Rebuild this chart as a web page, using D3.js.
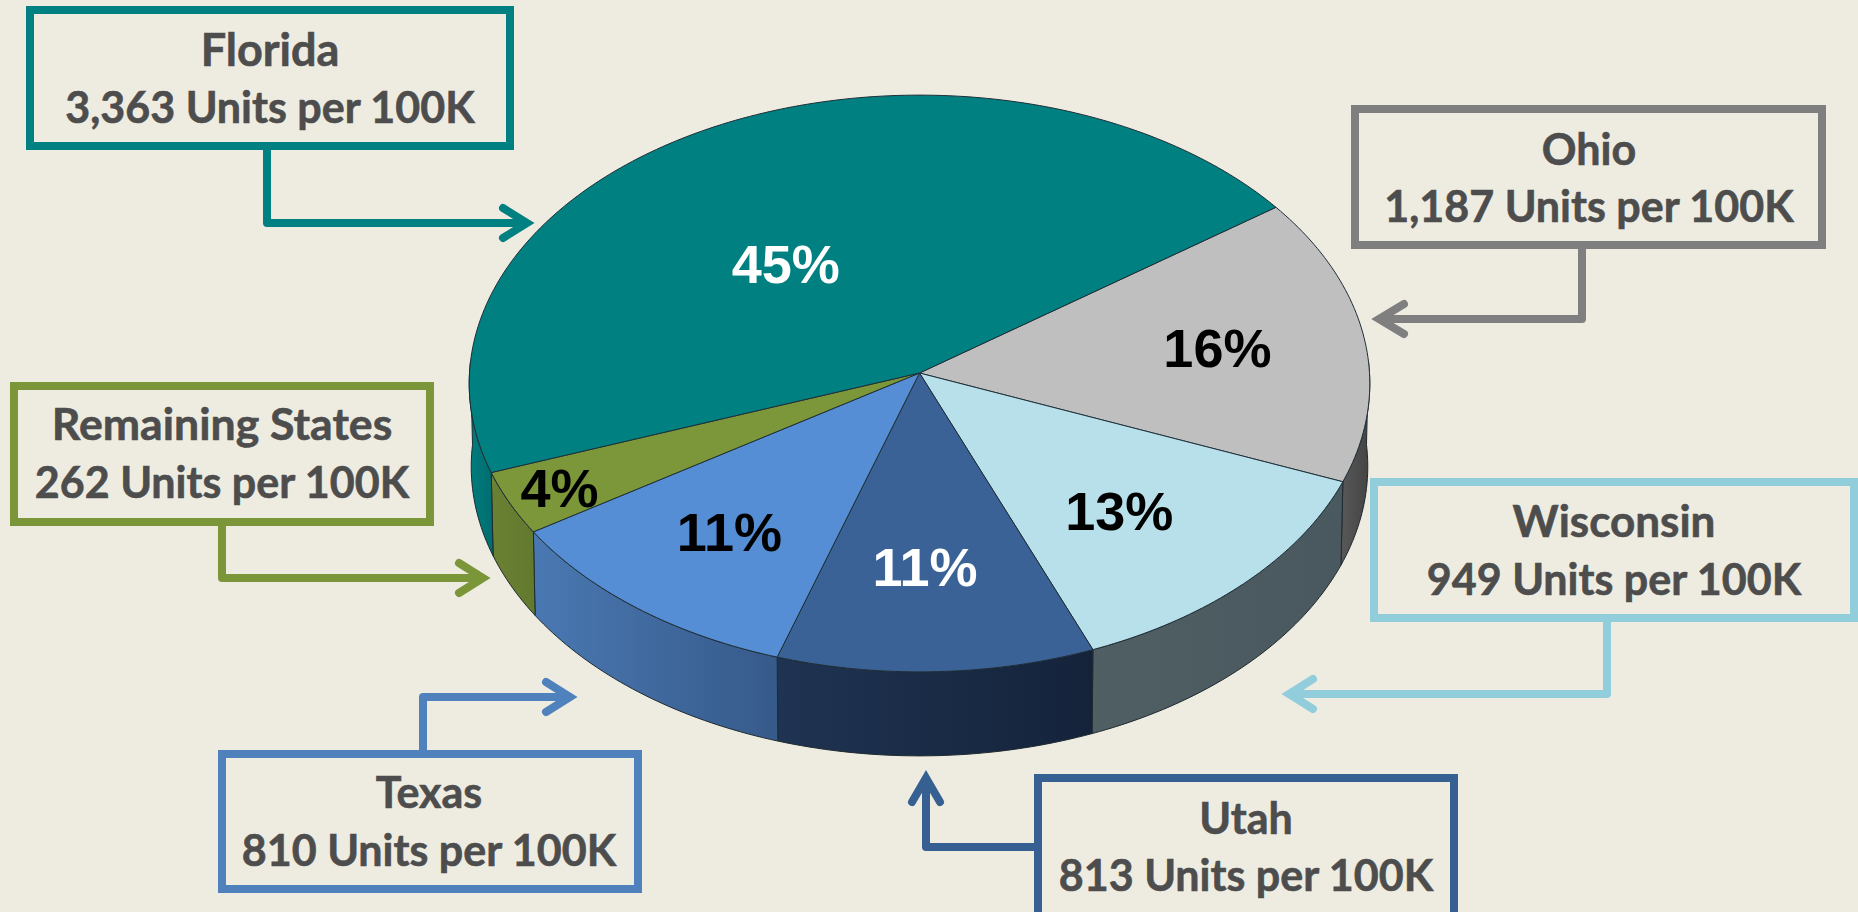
<!DOCTYPE html>
<html>
<head>
<meta charset="utf-8">
<style>
    html, body { margin: 0; padding: 0; background: #EEECE1; overflow: hidden; }
    svg { display: block; }
    .box-text { font-family: Lato, sans-serif; font-weight: 700; font-size: 43px; fill: #4d4d4d; stroke: #4d4d4d; stroke-width: 0.6px; text-anchor: middle; }
    .pct-text { font-family: "Liberation Sans", Arial, sans-serif; font-weight: 700; font-size: 54px; text-anchor: middle; }
</style>
</head>
<body>
<svg id="chart" width="1858" height="912"></svg>
<script src="https://cdn.jsdelivr.net/npm/d3@7"></script>
<script>
// values, clockwise from the Ohio slice
const states = ['Ohio', 'Wisconsin', 'Utah', 'Texas', 'Remaining States', 'Florida'];
const units = [1187, 949, 813, 810, 262, 3363];
const percents = [16, 13, 11, 11, 4, 45];

const topColors = ['#bfbfbf', '#b7e0ea', '#3a6296', '#558ed5', '#7c9739', '#008080'];
const sideFrom = ['#585858', '#4f5f63', '#1f3352', '#4a78b2', '#6a8033', '#007c7d'];
const sideTo = ['#434343', '#4a585f', '#14233a', '#365a8a', '#637a2e', '#006d70'];
const boxColors = ['#7f7f7f', '#92cddc', '#376092', '#4f81bd', '#7a9639', '#008080'];
const pctColors = ['#000', '#000', '#fff', '#000', '#000', '#fff'];

// pie label placement: fraction of the radius, nudge in degrees
const labelRadius = [0.67, 0.64, 0.655, 0.68, 0.88, 0.49];
const labelNudge = [-0.5, 2, 1, 0, 0, -10];

// state name sizes, the original face runs a little wider on some names
const nameSizes = [43, 44, 43, 43, 44.6, 45];

// callout layout, same order as states
const callouts = [
    { rect: [1355, 109, 467, 136], text: [1589, 165, 222], path: [[1582, 245], [1582, 319], [1381, 319]], head: [[1404, 304], [1379, 319], [1404, 334]] },
    { rect: [1374, 482, 480, 136], text: [1614, 537, 595], path: [[1607, 618], [1607, 694], [1291, 694]], head: [[1313, 679], [1289, 694], [1313, 709]] },
    { rect: [1038, 778, 416, 140], text: [1246, 834, 891], path: [[1038, 847], [926, 847], [926, 780]], head: [[912, 802], [926, 778], [940, 802]] },
    { rect: [222, 754, 416, 135], text: [429, 808, 866], path: [[423, 754], [423, 697], [568, 697]], head: [[546, 682], [570, 697], [546, 712]] },
    { rect: [14, 386, 416, 136], text: [222, 440, 498], path: [[222, 522], [222, 578], [481, 578]], head: [[459, 563], [483, 578], [459, 593]] },
    { rect: [30, 10, 480, 136], text: [270, 66, 123], path: [[267, 146], [267, 223], [525, 223]], head: [[503, 208], [527, 223], [503, 238]] }
];

const rad = Math.PI / 180,
    cx = 919.5, apexY = 373, rx = 450, ry = 288, tilt = 0.0364,
    depth = 83;

// perspective view of the pie disc, z = 0 top face, z = 1 bottom edge
const project = (a, r, z) => {
    const u = -Math.cos(a) * r,
        s = Math.sin(a) * r,
        w = 1 - tilt * u,
        k = 1 - 0.0045 * z;
    return [cx + rx * k * s / w, apexY + ry * u / w + z * depth * (1 + 0.012 * u)];
};

const arcPoints = (a0, a1, z) => {
    const n = Math.max(2, Math.ceil(Math.abs(a1 - a0) / rad));
    return d3.range(n + 1).map(i => project(a0 + (a1 - a0) * i / n, 1, z));
};

const svg = d3.select('#chart');
const line = d3.line();
const defs = svg.append('defs');

svg.append('rect')
    .attr('width', 1858)
    .attr('height', 912)
    .attr('fill', '#EEECE1');

const slices = d3.pie()
    .sort(null)
    .startAngle(54 * rad)
    .endAngle(414 * rad)(units);

// visible side wall only runs between the two silhouette points
const wallStart = Math.acos(tilt) - 0.003,
    wallEnd = 2 * Math.PI - wallStart;

const walls = svg.append('g').attr('class', 'walls');

slices.forEach((d, i) => {
    const a0 = Math.max(d.startAngle, wallStart),
        a1 = Math.min(d.endAngle, wallEnd);
    if (a1 <= a0) return;

    const pts = arcPoints(a0, a1, 0).concat(arcPoints(a1, a0, 1)),
        xs = d3.extent(pts, p => p[0]),
        id = `side-${i}`;

    const grad = defs.append('linearGradient')
        .attr('id', id)
        .attr('gradientUnits', 'userSpaceOnUse')
        .attr('x1', xs[0]).attr('x2', xs[1])
        .attr('y1', 0).attr('y2', 0);
    grad.append('stop').attr('offset', 0).attr('stop-color', sideFrom[i]);
    grad.append('stop').attr('offset', 1).attr('stop-color', sideTo[i]);

    walls.append('path')
        .attr('d', line(pts) + 'Z')
        .attr('fill', `url(#${id})`)
        .attr('stroke', '#1f2a30')
        .attr('stroke-width', 1)
        .attr('stroke-linejoin', 'round');
});

// top face
svg.append('g')
    .attr('class', 'slices')
    .selectAll('path')
    .data(slices)
    .enter().append('path')
    .attr('d', d => line([[cx, apexY]].concat(arcPoints(d.startAngle, d.endAngle, 0))) + 'Z')
    .attr('fill', (d, i) => topColors[i])
    .attr('stroke', '#1f2f38')
    .attr('stroke-width', 1)
    .attr('stroke-linejoin', 'round');

// percent labels
svg.append('g')
    .selectAll('text')
    .data(slices)
    .enter().append('text')
    .attr('class', 'pct-text')
    .attr('x', (d, i) => project((d.startAngle + d.endAngle) / 2 + labelNudge[i] * rad, labelRadius[i], 0)[0])
    .attr('y', (d, i) => project((d.startAngle + d.endAngle) / 2 + labelNudge[i] * rad, labelRadius[i], 0)[1])
    .attr('dy', '0.36em')
    .attr('fill', (d, i) => pctColors[i])
    .text((d, i) => `${percents[i]}%`);

// callout boxes and arrows
const fmt = d3.format(',');
callouts.forEach((c, i) => {
    const g = svg.append('g').attr('class', 'callout');

    g.append('path')
        .attr('d', line(c.path))
        .attr('fill', 'none')
        .attr('stroke', boxColors[i])
        .attr('stroke-width', 8)
        .attr('stroke-linejoin', 'round');
    g.append('path')
        .attr('d', line(c.head))
        .attr('fill', 'none')
        .attr('stroke', boxColors[i])
        .attr('stroke-width', 8)
        .attr('stroke-linecap', 'round')
        .attr('stroke-linejoin', 'miter');

    g.append('rect')
        .attr('x', c.rect[0])
        .attr('y', c.rect[1])
        .attr('width', c.rect[2])
        .attr('height', c.rect[3])
        .attr('fill', 'none')
        .attr('stroke', boxColors[i])
        .attr('stroke-width', 8);

    g.append('text')
        .attr('class', 'box-text')
        .attr('x', c.text[0])
        .attr('y', c.text[1])
        .style('font-size', `${nameSizes[i]}px`)
        .text(states[i]);
    g.append('text')
        .attr('class', 'box-text')
        .attr('x', c.text[0])
        .attr('y', c.text[2])
        .text(`${fmt(units[i])} Units per 100K`);
});
</script>
</body>
</html>
